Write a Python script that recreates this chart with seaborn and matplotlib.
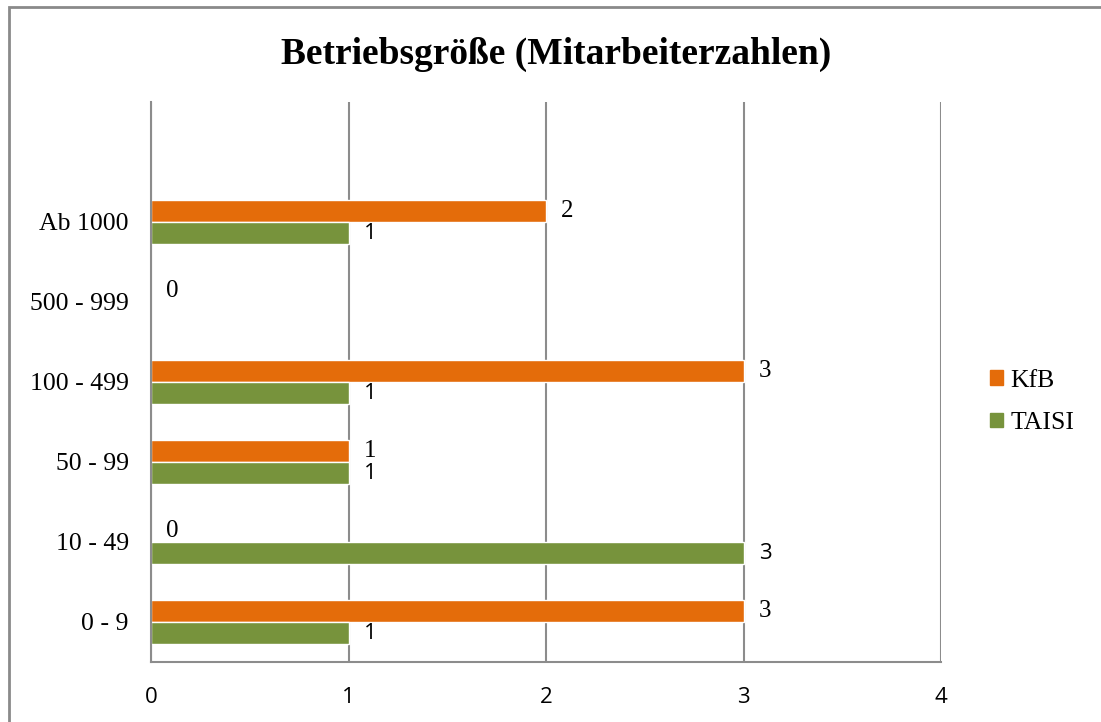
import matplotlib
matplotlib.use("Agg")
import matplotlib.pyplot as plt
from matplotlib.patches import Rectangle
import numpy as np
import pandas as pd
import seaborn as sns

# Daten
kategorien = ["0 - 9", "10 - 49", "50 - 99", "100 - 499", "500 - 999", "Ab 1000"]
kfb = [3, 0, 1, 3, 0, 2]
taisi = [1, 3, 1, 1, None, 1]
reihen = ["KfB", "TAISI"]
farben = ["#E46C0A", "#77933C"]
x_ticks = [0, 1, 2, 3, 4]

rows = []
for kat, k, t in zip(kategorien, kfb, taisi):
    rows.append({"Größe": kat, "Reihe": "KfB", "Anzahl": k})
    if t is not None:
        rows.append({"Größe": kat, "Reihe": "TAISI", "Anzahl": t})
df = pd.DataFrame(rows)

# oben eine leere Kategorie, dann absteigend
order = ["__leer__"] + kategorien[::-1]

sns.set_style("white")
plt.rcParams["text.color"] = "black"
plt.rcParams["xtick.labelcolor"] = "black"
plt.rcParams["ytick.labelcolor"] = "black"
serif = ["Liberation Serif", "DejaVu Serif"]
sans = ["Open Sans", "DejaVu Sans"]
grau = "#8C8C8C"

fig = plt.figure(figsize=(11.01, 7.22), dpi=100)
ax = fig.add_axes([151 / 1101, 1 - 662 / 722, (941 - 151) / 1101, (662 - 102) / 722])

sns.barplot(data=df, x="Anzahl", y="Größe", hue="Reihe", order=order,
            hue_order=reihen, palette=farben, orient="h", width=0.56,
            saturation=1, legend=False, ax=ax, errorbar=None)

# Datenbeschriftungen
for cont, fam, gr in zip(ax.containers, [serif, sans], [18, 16]):
    ax.bar_label(cont, labels=[f"{w:.0f}" for w in cont.datavalues],
                 padding=11, fontsize=gr, family=fam, color="black")

ax.set_xlim(0, 4)
ax.set_ylim(len(order) - 0.5, -0.5)
ax.set_xticks(x_ticks)
ax.set_xticklabels([str(v) for v in x_ticks], family=sans, fontsize=16)
ax.set_yticks(np.arange(len(order)))
ax.set_yticklabels([""] + kategorien[::-1], family=serif, fontsize=18.5)
ax.set_yticks(np.arange(-0.5, len(order)), minor=True)
ax.tick_params(axis="y", which="major", length=0, pad=16)
ax.tick_params(axis="y", which="minor", length=6, width=1.5, color=grau, direction="out")
ax.tick_params(axis="x", length=6, width=1.5, color=grau, direction="out", pad=12)
ax.set_xlabel("")
ax.set_ylabel("")

ax.grid(axis="x", color=grau, linewidth=1.5)
ax.grid(axis="y", visible=False)
ax.set_axisbelow(True)
for s in ["top", "right"]:
    ax.spines[s].set_visible(False)
for s in ["left", "bottom"]:
    ax.spines[s].set_color(grau)
    ax.spines[s].set_linewidth(1.5)

fig.text(556 / 1101, 1 - 54 / 722, "Betriebsgröße (Mitarbeiterzahlen)",
         ha="center", va="center", fontsize=27, fontweight="bold", family=serif)

handles = [Rectangle((0, 0), 1, 1, color=c) for c in farben]
fig.legend(handles, reihen, loc="center left",
           bbox_to_anchor=(990 / 1101, 1 - 402 / 722), frameon=False,
           prop={"family": serif, "size": 18.5}, handlelength=0.5, handleheight=0.5,
           handletextpad=0.3, labelspacing=0.8, borderpad=0, borderaxespad=0)

# Rahmen um das Diagramm
fig.add_artist(Rectangle((8.5 / 1101, -0.2), 1.2, 1.2 - 6.5 / 722,
                         transform=fig.transFigure, fill=False,
                         edgecolor="#8A8A8A", linewidth=2))

fig.savefig("out.png", dpi=100)
